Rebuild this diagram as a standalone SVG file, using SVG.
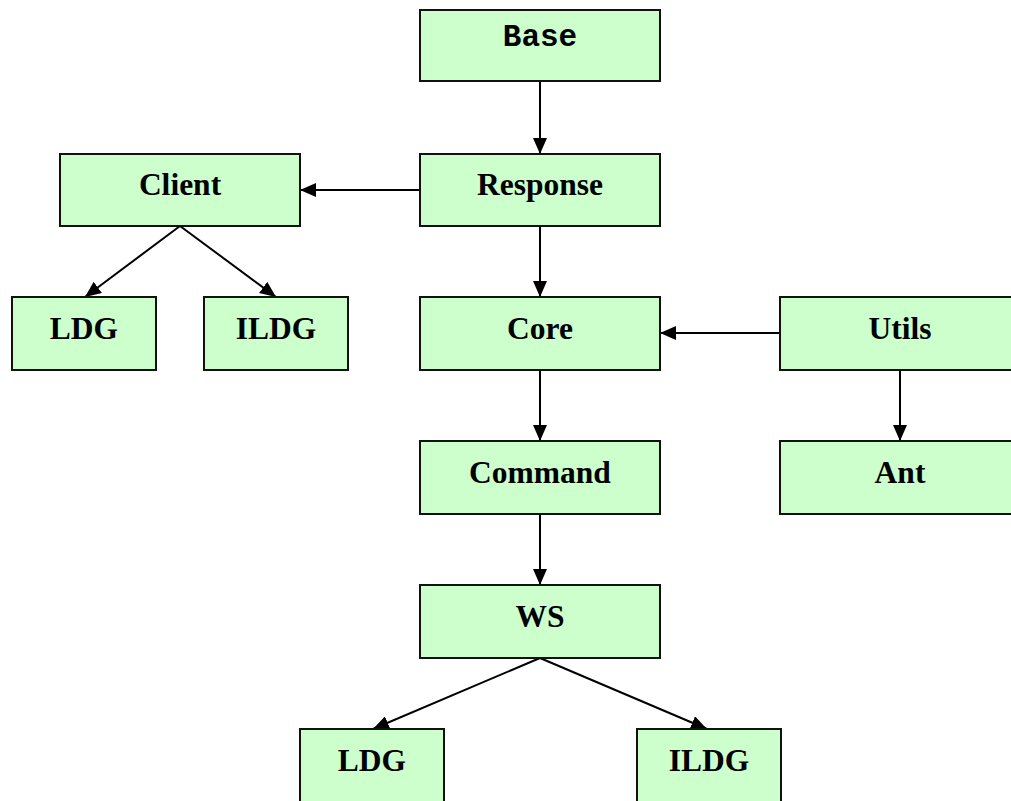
<svg xmlns="http://www.w3.org/2000/svg" width="1011" height="801" viewBox="0 0 1011 801">
  <defs>
    <marker id="arrow" viewBox="0 0 16 14" refX="16" refY="7" markerWidth="16" markerHeight="14" markerUnits="userSpaceOnUse" orient="auto">
      <path d="M0,0 L16,7 L0,14 Z" fill="#000"/>
    </marker>
    <style>
      .box { fill: #CCFFCC; stroke: #111; stroke-width: 2; }
      .lbl { font-family: "Liberation Serif", "Times New Roman", serif; font-weight: bold; font-size: 31.5px; fill: #000; text-anchor: middle; }
      .mono { font-family: "Liberation Mono", "Courier New", monospace; font-weight: bold; font-size: 31px; fill: #000; text-anchor: middle; }
      .edge { stroke: #000; stroke-width: 2; fill: none; marker-end: url(#arrow); }
    </style>
  </defs>
  <rect width="1011" height="801" fill="#fff"/>

  <g id="connectors">
    <line class="edge" x1="540" y1="81" x2="540" y2="154"/>
    <line class="edge" x1="420" y1="190" x2="300" y2="190"/>
    <line class="edge" x1="180" y1="226" x2="85" y2="297"/>
    <line class="edge" x1="180" y1="226" x2="276" y2="297"/>
    <line class="edge" x1="540" y1="226" x2="540" y2="297"/>
    <line class="edge" x1="780" y1="333" x2="660" y2="333"/>
    <line class="edge" x1="900" y1="370" x2="900" y2="441"/>
    <line class="edge" x1="540" y1="370" x2="540" y2="441"/>
    <line class="edge" x1="540" y1="514" x2="540" y2="585"/>
    <line class="edge" x1="540" y1="658" x2="373" y2="729"/>
    <line class="edge" x1="540" y1="658" x2="707" y2="729"/>
  </g>

  <g id="base">
    <rect class="box" x="420" y="10" width="240" height="71"/>
    <text class="mono" x="540" y="46">Base</text>
  </g>
  <g id="response">
    <rect class="box" x="420" y="154" width="240" height="72"/>
    <text class="lbl" x="540" y="195">Response</text>
  </g>
  <g id="client">
    <rect class="box" x="60" y="154" width="240" height="72"/>
    <text class="lbl" x="180" y="195">Client</text>
  </g>
  <g id="client-ldg">
    <rect class="box" x="12" y="297" width="144" height="73"/>
    <text class="lbl" x="84" y="339">LDG</text>
  </g>
  <g id="client-ildg">
    <rect class="box" x="204" y="297" width="144" height="73"/>
    <text class="lbl" x="276" y="339">ILDG</text>
  </g>
  <g id="core">
    <rect class="box" x="420" y="297" width="240" height="73"/>
    <text class="lbl" x="540" y="339">Core</text>
  </g>
  <g id="utils">
    <rect class="box" x="780" y="297" width="240" height="73"/>
    <text class="lbl" x="900" y="339">Utils</text>
  </g>
  <g id="command">
    <rect class="box" x="420" y="441" width="240" height="73"/>
    <text class="lbl" x="540" y="483">Command</text>
  </g>
  <g id="ant">
    <rect class="box" x="780" y="441" width="240" height="73"/>
    <text class="lbl" x="900" y="483">Ant</text>
  </g>
  <g id="ws">
    <rect class="box" x="420" y="585" width="240" height="73"/>
    <text class="lbl" x="540" y="627">WS</text>
  </g>
  <g id="ws-ldg">
    <rect class="box" x="300" y="729" width="144" height="73"/>
    <text class="lbl" x="372" y="771">LDG</text>
  </g>
  <g id="ws-ildg">
    <rect class="box" x="637" y="729" width="144" height="73"/>
    <text class="lbl" x="709" y="771">ILDG</text>
  </g>
</svg>
